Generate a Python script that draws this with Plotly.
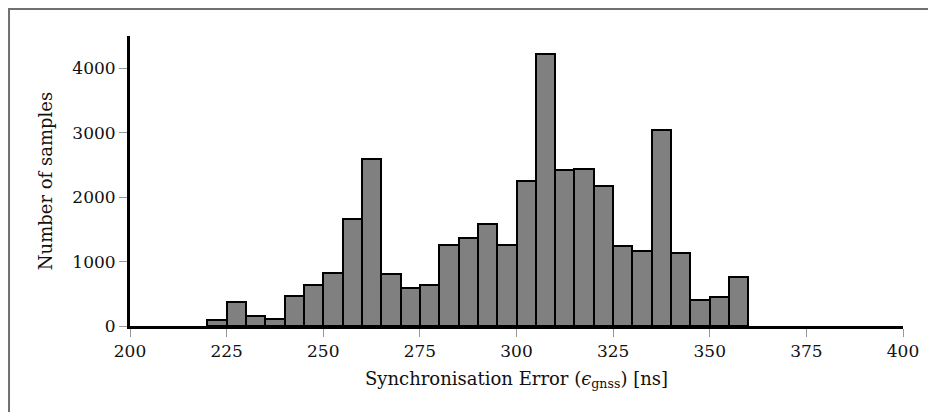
import plotly.graph_objects as go

# Histogram data: left bin edges (ns) and counts
bin_left = [220, 225, 230, 235, 240, 245, 250, 255, 260, 265, 270, 275, 280, 285,
            290, 295, 300, 305, 310, 315, 320, 325, 330, 335, 340, 345, 350, 355]
counts = [95, 370, 160, 110, 465, 640, 820, 1655, 2585, 800, 585, 640, 1255, 1370,
          1580, 1250, 2250, 4220, 2420, 2430, 2175, 1240, 1170, 3035, 1140, 405, 450, 760]
bin_width = 5
x_ticks = [200, 225, 250, 275, 300, 325, 350, 375, 400]
y_ticks = [0, 1000, 2000, 3000, 4000]

centers = [b + bin_width / 2 for b in bin_left]

font_family = "DejaVu Serif"

fig = go.Figure()
fig.add_trace(go.Bar(
    x=centers, y=counts, width=bin_width,
    marker=dict(color="#808080", line=dict(color="black", width=2)),
    showlegend=False, hoverinfo="x+y",
))

fig.update_layout(
    width=928, height=404,
    margin=dict(l=122, r=33, t=28, b=86),
    paper_bgcolor="white", plot_bgcolor="white",
    font=dict(family=font_family, size=17, color="#111"),
    bargap=0,
    xaxis=dict(
        range=[200, 400], tickvals=x_ticks, ticktext=[str(v) for v in x_ticks],
        showgrid=False, zeroline=False,
        showline=True, linecolor="black", linewidth=3,
        ticks="outside", ticklen=8, tickwidth=1, tickcolor="#999",
        tickfont=dict(size=17),
        title=dict(text="Synchronisation Error (<i>ϵ</i><sub>gnss</sub>) [ns]",
                   font=dict(size=18), standoff=12),
        fixedrange=True,
    ),
    yaxis=dict(
        range=[0, 4500], tickvals=y_ticks, ticktext=[str(v) for v in y_ticks],
        showgrid=False, zeroline=False,
        showline=True, linecolor="black", linewidth=3,
        ticks="outside", ticklen=8, tickwidth=1, tickcolor="#999",
        tickfont=dict(size=17),
        title=dict(text="Number of samples", font=dict(size=18), standoff=16),
        fixedrange=True,
    ),
    shapes=[dict(type="rect", xref="paper", yref="paper",
                 x0=-0.1565, x1=1.06, y0=-0.33, y1=1.0931,
                 line=dict(color="#707070", width=2), layer="below")],
)

fig.write_html("out.html")
